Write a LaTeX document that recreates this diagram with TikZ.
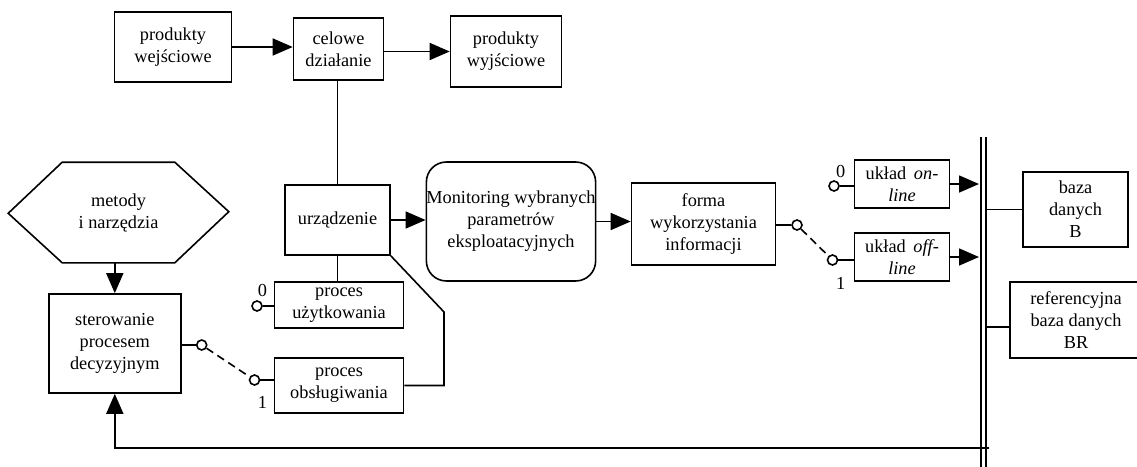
\documentclass[tikz,border=0pt]{standalone}
\usepackage{fontspec}
\setmainfont{Liberation Serif}
\usetikzlibrary{arrows.meta}
\tikzset{
  blok/.style={draw, rectangle, align=center, inner sep=1pt, line width=1.6pt},
  styk/.style={draw, circle, fill=white, inner sep=0pt, minimum size=10pt, line width=1.6pt},
  strzalka/.style={-{Triangle[length=20pt,width=17pt]}},
  przerywana/.style={dash pattern=on 8pt off 5pt}
}
\begin{document}
\begin{tikzpicture}[x=1pt, y=-1pt, line width=1.6pt, font=\fontsize{18.3}{22}\selectfont]
    \useasboundingbox (0,0) rectangle (1137,466);
    % gorny ciag
    \node[blok, minimum width=117, minimum height=70] (wej) at (173,47) {produkty\\wejściowe};
    \node[blok, minimum width=90, minimum height=62] (celowe) at (338.5,49) {celowe\\działanie};
    \node[blok, minimum width=111, minimum height=71] (wyj) at (506,51.5) {produkty\\wyjściowe};
    \draw[strzalka] (wej.east) -- (wej.east -| celowe.west);
    \draw[strzalka] (celowe.east |- wyj.west) -- (wyj.west);
    % metody
    \node[align=center, minimum width=111, minimum height=99] (metody) at (118.5,212.5) {metody\\i narzędzia};
    \draw (metody.north west) -- (metody.north east) -- ++(54,49.5) -- (metody.south east)
        -- (metody.south west) -- ++(-54,-49.5) -- cycle;
    \node[blok, minimum width=132, minimum height=99] (ster) at (114.8,343.5) {sterowanie\\procesem\\decyzyjnym};
    \draw[strzalka] (metody.south -| ster.north) -- (ster.north);
    % urzadzenie
    \node[blok, minimum width=105, minimum height=70] (urz) at (337.5,220) {urządzenie};
    \node[blok, rounded corners=20pt, inner sep=0pt, minimum width=166, minimum height=119] (monit) at (511,221.5) {Monitoring wybranych\\parametrów\\eksploatacyjnych};
    \node[blok, minimum width=144, minimum height=82] (forma) at (703.5,224) {forma\\wykorzystania\\informacji};
    \draw (celowe.south -| urz.north) -- (urz.north);
    \draw[strzalka] (urz.east) -- (urz.east -| monit.west);
    \draw[strzalka] (monit.east) -- (monit.east -| forma.west);
    % procesy
    \node[blok, minimum width=129, minimum height=46] (uzyt) at (339,305) {proces\\użytkowania};
    \node[blok, minimum width=129, minimum height=55] (obs) at (339,385.5) {proces\\obsługiwania};
    \draw (urz.south) -- (urz.south |- uzyt.north);
    \coordinate (zalom) at (444,312);
    \draw (urz.south east) -- (zalom) |- (obs.east);
    \node[styk] (s0) at (257,306) {};
    \draw (s0) -- (s0 -| uzyt.west);
    \node (zero1) at (262.5,290) {0};
    \node[styk] (s1) at (201.7,345) {};
    \node[styk] (s2) at (254.5,380) {};
    \draw (ster.east |- s1) -- (s1);
    \draw[przerywana] (s1) -- (s2);
    \draw (s2) -- (s2 -| obs.west);
    \node (jeden1) at (262.5,402) {1};
    % uklady
    \node[blok, minimum width=95, minimum height=48] (online) at (902,184) {układ \,\textit{on-}\\\textit{line}};
    \node[blok, minimum width=95, minimum height=48] (offline) at (902,257) {układ \,\textit{off-}\\\textit{line}};
    \node[styk] (s3) at (797,225) {};
    \node[styk] (s4) at (832.5,260) {};
    \draw (forma.east |- s3) -- (s3);
    \draw[przerywana] (s3) -- (s4);
    \draw (s4) -- (s4 -| offline.west);
    \node[styk] (s5) at (834,186) {};
    \draw (s5) -- (s5 -| online.west);
    \node (zero2) at (840.7,172) {0};
    \node (jeden2) at (840.7,283) {1};
    % szyna
    \coordinate (szynaA) at (981,137);
    \coordinate (szynaB) at (986,137);
    \coordinate (dol) at (989,448);
    \coordinate (bR) at (0,327);
    \draw (szynaA) -- (szynaA |- 0,470);
    \draw (szynaB) -- (szynaB |- 0,470);
    \draw[strzalka, shorten >=2pt] (online.east) -- (online.east -| szynaA);
    \draw[strzalka, shorten >=2pt] (offline.east) -- (offline.east -| szynaA);
    % bazy
    \node[blok, minimum width=105, minimum height=75] (baza) at (1075.5,209.5) {baza\\danych\\B};
    \node[blok, minimum width=132, minimum height=76] (ref) at (1076,320) {referencyjna\\baza danych\\BR};
    \draw (szynaB |- baza.west) -- (baza.west);
    \draw (szynaB |- bR) -- (ref.west |- bR);
    % sprzezenie zwrotne
    \draw[strzalka] (dol) -| (ster.south);
\end{tikzpicture}
\end{document}
